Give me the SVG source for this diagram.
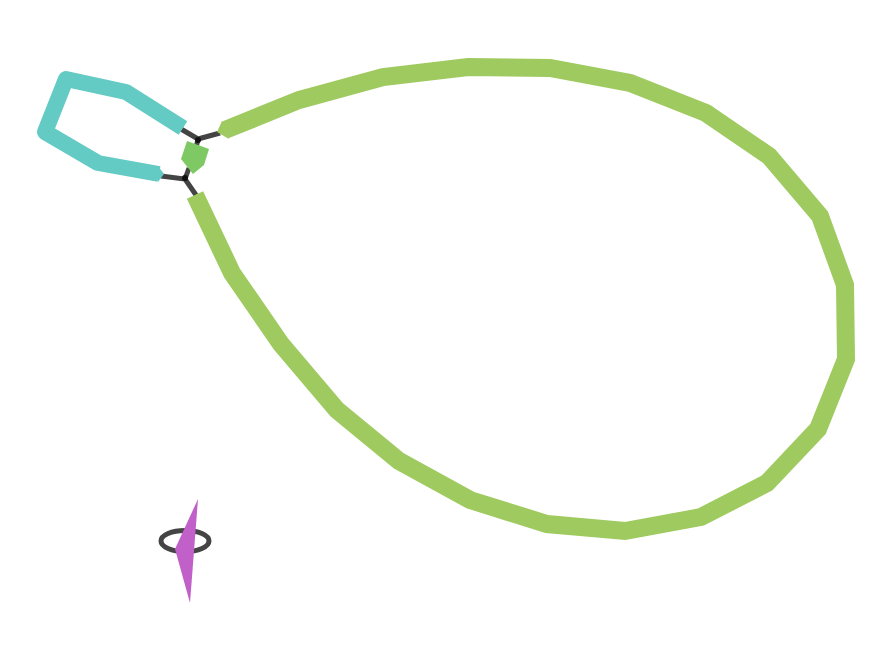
<svg xmlns="http://www.w3.org/2000/svg" width="875" height="648" viewBox="0 0 875 648">
<style>
.loop{fill:none;stroke:#9fca5f;stroke-width:18;stroke-linejoin:miter}
.hair{fill:none;stroke:#63cbc3;stroke-width:16;stroke-linejoin:round}
.link{fill:none;stroke:#444;stroke-width:5}
.dot{fill:#111}
</style>
<rect width="875" height="648" fill="#fff"/>
<g id="connectors">
<polyline class="link" points="181,129 198,139 220,133"/>
<line class="link" x1="198" y1="139" x2="196" y2="148"/>
<polyline class="link" points="161,176 185,179 196,195"/>
<line class="link" x1="185" y1="179" x2="189" y2="168"/>
<circle class="dot" cx="198" cy="140" r="3"/>
<circle class="dot" cx="185" cy="178" r="3"/>
</g>
<g id="hairpin">
<polyline class="hair" points="183,128 126,92 66,79 45,132 98,163 159,174"/>
<polygon points="158,166 164,174 158,182" fill="#63cbc3"/>
</g>
<g id="junction">
<polygon points="187,141 209,149 204,165 193,174 181,159" fill="#7ec964"/>
</g>
<g id="loop">
<polyline class="loop" points="225,130 299,100 383,77 468,67 550,68 630,83 706,113 769,156 820,216 845,285 846,359 818,429 767,483 701,517 625,531 547,524 470,500 399,461 337,410 281,344 232,273 195,195"/>
<polygon points="222,121 217,132 229,139" fill="#9fca5f"/>
</g>
<g id="pseudoknot">
<ellipse cx="185" cy="541" rx="24" ry="10.5" fill="none" stroke="#444" stroke-width="5"/>
<polygon points="198,499 190,603 175,549" fill="#c060c8"/>
</g>
</svg>
